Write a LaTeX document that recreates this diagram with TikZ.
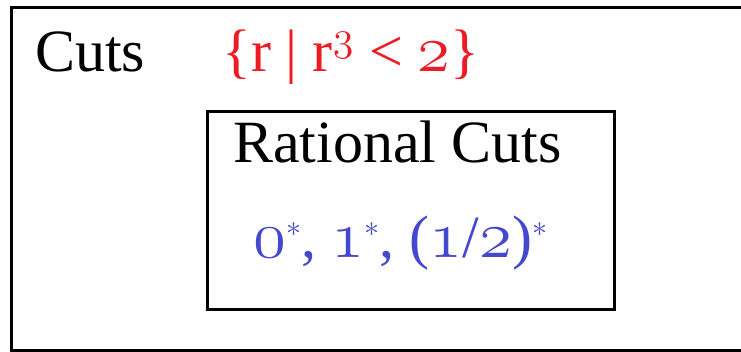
\RequirePackage{fix-cm}
\documentclass[tikz,border=0pt]{standalone}
\usepackage{fontspec}
\setmainfont{Liberation Serif}
\usetikzlibrary{positioning}
\definecolor{cutRed}{RGB}{237,28,36}
\definecolor{cutBlue}{RGB}{68,72,206}
\newcommand{\osn}[1]{\ensuremath{\mathnormal{#1}}}
\newcommand{\bosn}[1]{{\fontsize{67}{72}\selectfont\ensuremath{\mathnormal{#1}}}}
\newcommand{\cstar}{\ensuremath{^{\scriptscriptstyle *}}}

\begin{document}
\begin{tikzpicture}[x=1pt, y=1pt,
    boxline/.style={draw, line width=3pt, inner sep=0pt},
    lbl/.style={anchor=base west, inner sep=0pt, font=\fontsize{60}{72}\selectfont},
]
\useasboundingbox (0,0) rectangle (741,352);
\clip (0,0) rectangle (741,352);
\node[boxline, minimum width=760, minimum height=343] (cutsbox) at (391.5,173) {};
\node[boxline, minimum width=407, minimum height=198] (ratbox) at (410.5,141) {};
\node[lbl] (cuts) at (35,280) {Cuts};
\node[lbl, text=cutRed] (cubeset) at (222,280) {\{r | r\textsuperscript{\osn{3}} < \bosn{2}\}};
\node[lbl] (ratcuts) at (233,189) {Rational Cuts};
\node[lbl, text=cutBlue] (examples) at (253,94) {\bosn{0}\cstar, \bosn{1}\cstar, (\bosn{1}/\bosn{2})\cstar};
\end{tikzpicture}
\end{document}
